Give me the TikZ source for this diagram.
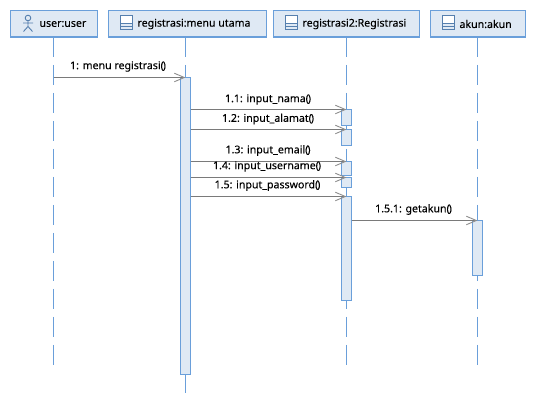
\documentclass[tikz,border=0pt]{standalone}
\usepackage{fontspec}
\setmainfont[FakeBold=0.12]{Noto Sans}
\usetikzlibrary{arrows.meta}
\definecolor{edge}{HTML}{6A9FDA}
\definecolor{pale}{HTML}{DFE9F4}
\definecolor{msgc}{HTML}{7A7A7A}
\definecolor{ink}{HTML}{000000}
\newcommand{\callp}{(\kern-1.1pt)}
\tikzset{
  x=1pt,y=-1pt,
  every node/.style={font=\fontsize{10.6}{12}\selectfont,text=ink,inner sep=0pt,outer sep=0pt},
  headbox/.style={draw=edge,fill=pale,line width=1.2pt,anchor=north west},
  headtext/.style={anchor=west},
  bar/.style={draw=edge,fill=pale,line width=1.2pt,minimum width=10pt,anchor=north},
  lifeline/.style={draw=edge,line width=1pt,dash pattern=on 20pt off 8pt},
  msg/.style={draw=msgc,line width=1.1pt,-{Straight Barb[length=10pt,width=8.5pt,line width=0.9pt,color=msgc!85]}},
  msgtext/.style={anchor=center},
  icon/.style={draw=edge!80!black,line width=0.9pt},
}
\begin{document}
\begin{tikzpicture}
\useasboundingbox (0,0) rectangle (536,403);
\fill[white] (0,0) rectangle (536,403);

% header boxes
\node[headbox,minimum width=87pt,minimum height=26.5pt] (u) at (10.5,10.5) {};
\node[headbox,minimum width=158pt,minimum height=26.5pt] (r) at (108.5,10.5) {};
\node[headbox,minimum width=146pt,minimum height=26.5pt] (s) at (273.5,10.5) {};
\node[headbox,minimum width=95pt,minimum height=26.5pt] (k) at (430.5,10.5) {};

\node[headtext] (ut) at (39.5,24) {user:user};
\node[headtext] (rt) at (137.5,24) {registrasi:menu utama};
\node[headtext] (st) at (302.5,24) {registrasi2:Registrasi};
\node[headtext] (kt) at (459.5,24) {akun:akun};

% actor icon
\draw[icon] (28,18) circle (2.8pt);
\draw[icon] (28,20.8) -- (28,26.5) (23,23) -- (33,23) (23.5,31.5) -- (28,26.5) -- (32.5,31.5);
% class icons
\foreach \ix in {120.5,285.5,442.5}{
  \draw[icon,fill=white] (\ix,15.5) rectangle ++(12,14);
  \fill[pale] (\ix+0.5,23.5) rectangle ++(11,5.5);
  \draw[icon] (\ix,23.5) -- ++(12,0) (\ix,26.5) -- ++(12,0);
}

% lifeline ends
\coordinate (ue) at (53.5,365);
\coordinate (re) at (185.5,393);
\coordinate (se) at (346.5,365);
\coordinate (ke) at (477.5,365);
\draw[lifeline] (u.south -| ue) -- (ue);
\draw[lifeline] (r.south -| re) -- (re);
\draw[lifeline] (s.south -| se) -- (se);
\draw[lifeline] (k.south -| ke) -- (ke);

% activations
\node[bar,minimum height=297pt] (a0) at (185.5,77.5) {};
\node[bar,minimum height=16pt] (a1) at (346.5,109.5) {};
\node[bar,minimum height=16pt] (a2) at (346.5,129.5) {};
\node[bar,minimum height=14pt] (a3) at (346.5,161.5) {};
\node[bar,minimum height=10pt] (a4) at (346.5,177.5) {};
\node[bar,minimum height=104pt] (a5) at (346.5,196.5) {};
\node[bar,minimum height=55pt] (a6) at (477.5,220.5) {};

% messages
\coordinate (m0) at (53.5,77.5);
\coordinate (m1) at (190.5,109.5);
\coordinate (m2) at (190.5,129.5);
\coordinate (m3) at (190.5,161.5);
\coordinate (m4) at (190.5,177.5);
\coordinate (m5) at (190.5,196.5);
\coordinate (m6) at (351.5,220.5);
\draw[msg] (m0) -- (a0.north);
\draw[msg] (m1) -- (a1.north);
\draw[msg] (m2) -- (a2.north);
\draw[msg] (m3) -- (a3.north);
\draw[msg] (m4) -- (a4.north);
\draw[msg] (m5) -- (a5.north);
\draw[msg] (m6) -- (a6.north);

% message labels
\node[msgtext] (l0) at (118,66.5) {1: menu registrasi\callp};
\node[msgtext] (l1) at (268,99.5) {1.1: input\_nama\callp};
\node[msgtext] (l2) at (268,119) {1.2: input\_alamat\callp};
\node[msgtext] (l3) at (268,150.5) {1.3: input\_email\callp};
\node[msgtext] (l4) at (267,166.5) {1.4: input\_username\callp};
\node[msgtext] (l5) at (267.5,185.5) {1.5: input\_password\callp};
\node[msgtext] (l6) at (413.5,209.5) {1.5.1: getakun\callp};
\end{tikzpicture}
\end{document}
